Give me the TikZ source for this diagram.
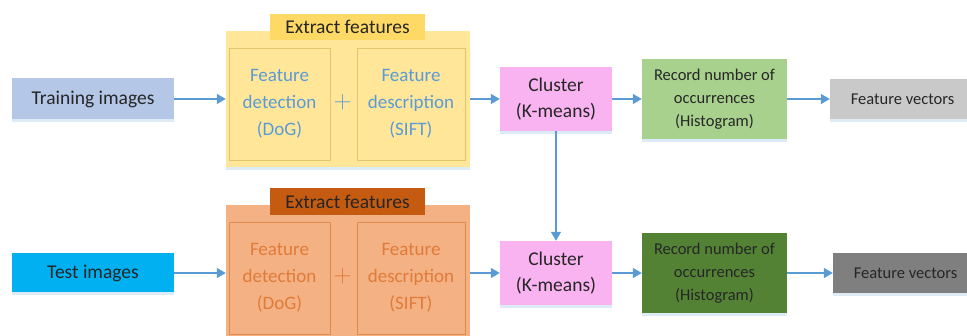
\documentclass[tikz,border=0pt]{standalone}
\usepackage{fontspec}
\setmainfont{Carlito}
\usetikzlibrary{arrows.meta,shadows}
\definecolor{flowblue}{HTML}{5B9BD5}
\definecolor{shadowblue}{HTML}{DDEBF7}
\definecolor{trainfill}{HTML}{B4C7E7}
\definecolor{testfill}{HTML}{00B0F0}
\definecolor{extyellow}{HTML}{FFE699}
\definecolor{tabyellow}{HTML}{FFD966}
\definecolor{inneryellow}{HTML}{E2C46E}
\definecolor{extorange}{HTML}{F4B183}
\definecolor{taborange}{HTML}{C55A11}
\definecolor{innerorange}{HTML}{E08A4E}
\definecolor{orangetext}{HTML}{E07B39}
\definecolor{pinkfill}{HTML}{F9B3F0}
\definecolor{greenlight}{HTML}{A9D18E}
\definecolor{greendark}{HTML}{548235}
\definecolor{greylight}{HTML}{C9C9C9}
\definecolor{greydark}{HTML}{7F7F7F}
\tikzset{
  x=1pt, y=1pt,
  shadowed/.style={drop shadow={shadow xshift=0pt, shadow yshift=-3pt, fill=shadowblue, opacity=1}},
  blockbox/.style={rectangle, inner sep=0pt, align=center, shadowed,
    font=\fontsize{19.5}{26}\selectfont, text=black!85},
  smallbox/.style={blockbox, font=\fontsize{16.5}{23}\selectfont},
  innerbox/.style={rectangle, inner sep=0pt, align=center, line width=0.8pt,
    font=\fontsize{19}{27}\selectfont},
  tabbox/.style={rectangle, inner sep=0pt, font=\fontsize{19.5}{22}\selectfont, text=black!85},
  plusmark/.style={inner sep=0pt, font=\fontsize{46}{46}\selectfont},
  flow/.style={draw=flowblue, line width=1.4pt, -{Triangle[length=9pt,width=10pt]}},
}
\begin{document}
\begin{tikzpicture}
\clip (0,0) rectangle (967,336);
\useasboundingbox (0,0) rectangle (967,336);

% ---- training branch ----
\node[blockbox, fill=trainfill, minimum width=162pt, minimum height=41pt] (train) at (93,237) {Training images};
\node[blockbox, fill=extyellow, minimum width=244pt, minimum height=136pt] (ext1) at (348,237) {};
\node[tabbox, fill=tabyellow, minimum width=155pt, minimum height=26pt] (tab1) at (347.5,309) {Extract features};
\node[innerbox, draw=inneryellow, text=flowblue, minimum width=101pt, minimum height=112pt] (det1) at (279.5,232) {Feature\\detection\\(DoG)};
\node[innerbox, draw=inneryellow, text=flowblue, minimum width=108pt, minimum height=112pt] (desc1) at (411,232) {Feature\\description\\(SIFT)};
\node[plusmark, text=flowblue] (plus1) at (342.5,234) {$+$};
\node[blockbox, fill=pinkfill, minimum width=112pt, minimum height=64pt, text depth=2pt] (cl1) at (556,237) {Cluster\\(K-means)};
\node[smallbox, fill=greenlight, minimum width=145pt, minimum height=80pt] (rec1) at (714.5,237) {Record number of\\occurrences\\(Histogram)};
\node[smallbox, fill=greylight, minimum width=145pt, minimum height=40pt] (fv1) at (902.5,237) {Feature vectors};

% ---- test branch ----
\node[blockbox, fill=testfill, minimum width=162pt, minimum height=39pt] (test) at (93,63) {Test images};
\node[blockbox, fill=extorange, minimum width=244pt, minimum height=136pt] (ext2) at (348,63) {};
\node[tabbox, fill=taborange, minimum width=155pt, minimum height=27pt] (tab2) at (347.5,134.5) {Extract features};
\node[innerbox, draw=innerorange, text=orangetext, minimum width=101pt, minimum height=112pt] (det2) at (279.5,58) {Feature\\detection\\(DoG)};
\node[innerbox, draw=innerorange, text=orangetext, minimum width=108pt, minimum height=112pt] (desc2) at (411,58) {Feature\\description\\(SIFT)};
\node[plusmark, text=orangetext] (plus2) at (342.5,60) {$+$};
\node[blockbox, fill=pinkfill, minimum width=112pt, minimum height=64pt, text depth=2pt] (cl2) at (556,63) {Cluster\\(K-means)};
\node[smallbox, fill=greendark, minimum width=145pt, minimum height=80pt] (rec2) at (714.5,63) {Record number of\\occurrences\\(Histogram)};
\node[smallbox, fill=greydark, minimum width=145pt, minimum height=40pt] (fv2) at (905.5,63) {Feature vectors};

% ---- connectors ----
\draw[flow] (train) -- (ext1);
\draw[flow] (ext1) -- (cl1);
\draw[flow] (cl1) -- (rec1);
\draw[flow] (rec1) -- (fv1);
\draw[flow] (test) -- (ext2);
\draw[flow] (ext2) -- (cl2);
\draw[flow] (cl2) -- (rec2);
\draw[flow] (rec2) -- (fv2);
\draw[flow] (cl1) -- (cl2);
\end{tikzpicture}
\end{document}
